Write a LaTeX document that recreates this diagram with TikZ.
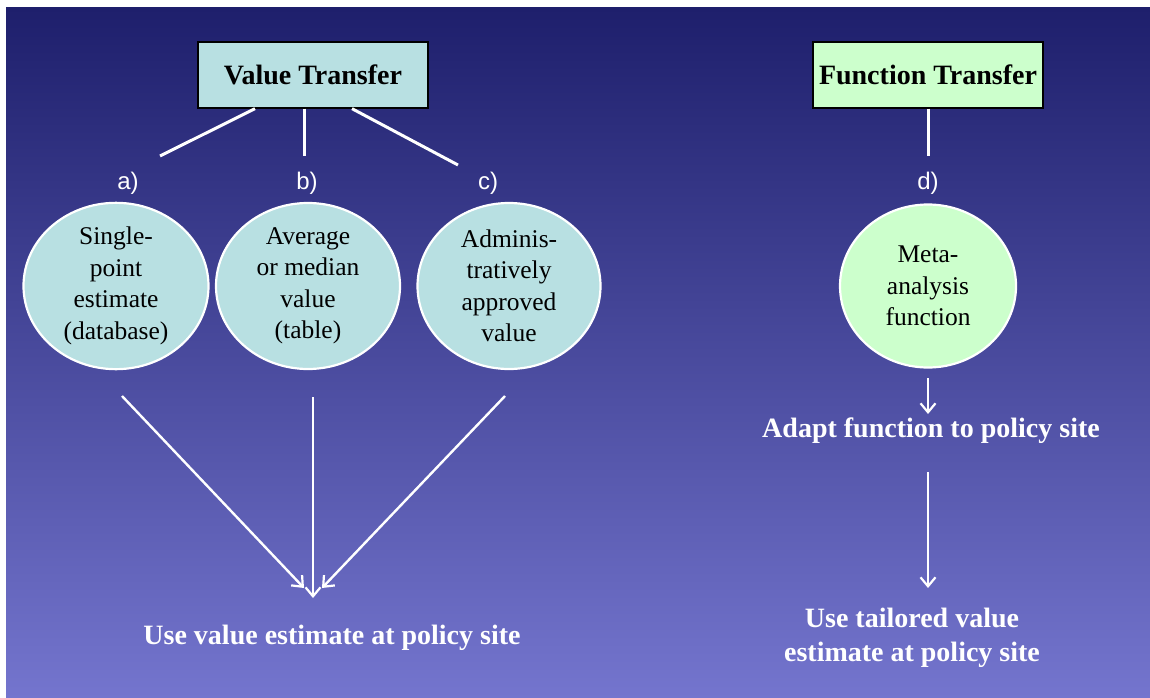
\documentclass[tikz,border=0pt]{standalone}
\usepackage{fontspec}
\setmainfont{Liberation Serif}
\setsansfont{Liberation Sans}
\usetikzlibrary{shapes.geometric,arrows.meta}
\definecolor{bgtop}{RGB}{30,31,108}
\definecolor{bgbot}{RGB}{116,117,206}
\definecolor{cyanfill}{RGB}{184,224,226}
\definecolor{greenfill}{RGB}{204,255,204}
\tikzset{
  titlebox/.style={draw=black, line width=1.3pt, minimum width=230pt, minimum height=66pt, inner sep=0pt,
    font=\fontsize{28}{32}\selectfont\bfseries, text=black},
  oval/.style={ellipse, draw=white, line width=2.2pt, inner sep=0pt, align=center,
    font=\fontsize{25.5}{31.5}\selectfont, text=black},
  letterlbl/.style={font=\sffamily\fontsize{24}{28}\selectfont, text=white, inner sep=0pt},
  wlabel/.style={font=\fontsize{28}{34}\selectfont\bfseries, text=white, align=center, inner sep=0pt},
  wline/.style={draw=white, line width=3pt},
  warrow/.style={draw=white, line width=2.4pt, -{Straight Barb[length=9pt,width=15pt,line width=2.2pt]}}
}
\begin{document}
\begin{tikzpicture}[x=1pt,y=-1pt]
\useasboundingbox (0,0) rectangle (1150,698);
\fill[white] (0,0) rectangle (1150,698);
\shade[top color=bgtop, bottom color=bgbot] (6,8) rectangle (1150,698);

% title boxes
\node[titlebox, fill=cyanfill] (vt) at (313,75) {Value Transfer};
\node[titlebox, fill=greenfill] (ft) at (928,75) {Function Transfer};

% letters
\node[letterlbl] (la) at (128,183) {a)};
\node[letterlbl] (lb) at (307,183) {b)};
\node[letterlbl] (lc) at (488,183) {c)};
\node[letterlbl] (ld) at (928,183) {d)};

% ovals
\node[oval, fill=cyanfill, minimum width=185pt, minimum height=166pt] (ea) at (116,286) {Single-\\point\\estimate\\(database)};
\node[oval, fill=cyanfill, minimum width=184pt, minimum height=166pt] (eb) at (308,286) {Average\\or median\\value\\(table)};
\node[oval, fill=cyanfill, minimum width=183pt, minimum height=166pt] (ec) at (509,286) {Adminis-\\tratively\\approved\\value};
\node[oval, fill=greenfill, minimum width=176pt, minimum height=163pt] (ed) at (928,286) {Meta-\\analysis\\function};

% connector coordinates
\coordinate (ta) at (160,156);
\coordinate (tb) at (304,156);
\coordinate (tc) at (458,165);
\coordinate (td) at (928,156);
\draw[wline] (vt.south west -| 255,0) -- (ta);
\draw[wline] (vt.south -| 304,0) -- (tb);
\draw[wline] (vt.south -| 352,0) -- (tc);
\draw[wline] (ft.south -| 928,0) -- (td);

% bottom labels
\node[wlabel] (use) at (332,638) {Use value estimate at policy site};
\node[wlabel] (adapt) at (931,431) {Adapt function to policy site};
\node[wlabel] (tail) at (912,638) {Use tailored value\\estimate at policy site};

% arrows
\coordinate (sa) at (122,396);
\coordinate (sb) at (313,397);
\coordinate (sc) at (505,396);
\coordinate (xa) at (304,588);
\coordinate (xb) at (313,598);
\coordinate (xc) at (322,588);
\draw[warrow] (sa) -- (xa);
\draw[warrow] (sb) -- (xb);
\draw[warrow] (sc) -- (xc);

\coordinate (sd) at (928,378);
\coordinate (xd) at (928,414);
\coordinate (se) at (928,472);
\coordinate (xe) at (928,588);
\draw[warrow] (sd) -- (xd);
\draw[warrow] (se) -- (xe);
\end{tikzpicture}
\end{document}
